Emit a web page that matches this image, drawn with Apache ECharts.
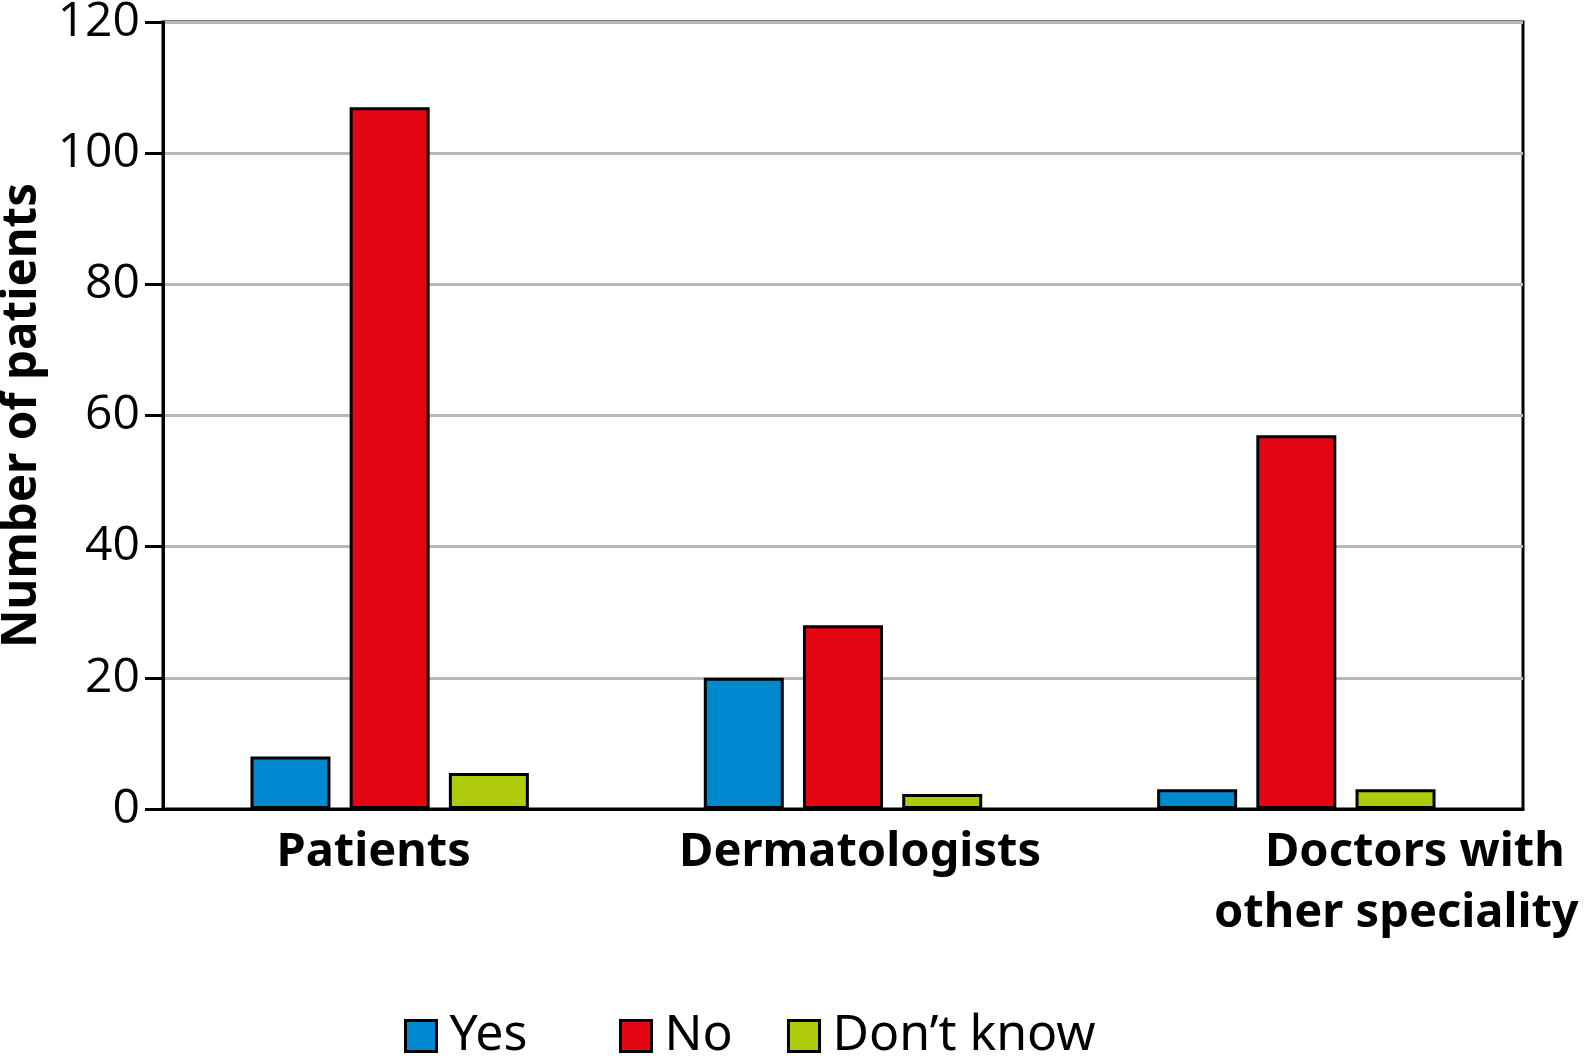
<!DOCTYPE html>
<html>
<head>
<meta charset="utf-8">
<script src="https://cdn.jsdelivr.net/npm/echarts@6/dist/echarts.min.js"></script>
<style>html,body{margin:0;padding:0;background:#fff}#c{width:1585px;height:1056px}</style>
</head>
<body>
<div id="c"></div>
<script>
const categories = ['Patients', 'Dermatologists', 'Doctors with\nother speciality'];
const seriesNames = ['Yes', 'No', 'Don\u2019t know'];
const yesValues = [8, 20, 3];
const noValues = [107, 28, 57];
const dontKnowValues = [5.5, 2.3, 3];
const yTicks = [0, 20, 40, 60, 80, 100, 120];
const colors = ['#0088cf', '#e30613', '#afca0b'];

const chart = echarts.init(document.getElementById('c'));
const labelShift = [-16, 17, 100];
const legendLefts = [399, 614, 782];
const lblFont = { fontSize: 47, fontWeight: 'bold', color: '#000', lineHeight: 61, fontFamily: "'Noto Sans', sans-serif" };
const mkSeries = (name, data, color) => ({
  name, type: 'bar', data, barWidth: 80, barGap: '24%',
  itemStyle: { color, borderColor: '#000', borderWidth: 3 }
});
const mkLegend = (name, left) => ({
  data: [name], top: 1006, left, itemWidth: 31, itemHeight: 31,
  icon: 'rect',
  itemStyle: { borderColor: '#000', borderWidth: 3 },
  textStyle: { fontSize: 50, color: '#000', fontFamily: "'Liberation Sans Narrow', 'Noto Sans', sans-serif", padding: [0, 0, 0, 8] }
});
chart.setOption({
  animation: false,
  backgroundColor: '#fff',
  grid: { left: 163, right: 62, top: 22, bottom: 247, containLabel: false, outerBoundsMode: 'none', show: true, borderColor: '#000', borderWidth: 3, backgroundColor: 'transparent' },
  legend: seriesNames.map((n, i) => mkLegend(n, legendLefts[i])),
  xAxis: {
    type: 'category',
    data: categories.map((c, i) => ({ value: c, textStyle: { padding: labelShift[i] >= 0 ? [0, 0, 0, 2 * labelShift[i]] : [0, -2 * labelShift[i], 0, 0] } })),
    axisLine: { lineStyle: { color: '#000', width: 3 } },
    axisTick: { show: false },
    axisLabel: Object.assign({
      interval: 0, margin: 13,
      formatter: v => {
        const parts = v.split('\n');
        if (parts.length < 2) return v;
        return parts.map((s, i) => i === 0 ? '{l1|' + s + '}' : '{l2|' + s + '}').join('\n');
      },
      rich: {
        l1: Object.assign({ padding: [0, 0, 0, 37] }, lblFont),
        l2: Object.assign({}, lblFont)
      }
    }, lblFont)
  },
  yAxis: {
    type: 'value', min: 0, max: 120, interval: 20,
    name: 'Number of patients', nameLocation: 'middle', nameGap: 107,
    nameTextStyle: { fontSize: 47.5, fontWeight: 'bold', color: '#000', fontFamily: "'Noto Sans', sans-serif" },
    axisLine: { show: true, lineStyle: { color: '#000', width: 3 } },
    axisTick: { show: true, length: 18, lineStyle: { color: '#000', width: 3 } },
    axisLabel: { margin: 23, fontSize: 48, color: '#000', fontFamily: "'Open Sans', sans-serif", formatter: v => yTicks.includes(v) ? String(v) : '' },
    splitLine: { show: true, lineStyle: { color: '#b8b8b8', width: 3 } }
  },
  series: [
    mkSeries(seriesNames[0], yesValues, colors[0]),
    mkSeries(seriesNames[1], noValues, colors[1]),
    mkSeries(seriesNames[2], dontKnowValues, colors[2])
  ]
});
</script>
</body>
</html>
